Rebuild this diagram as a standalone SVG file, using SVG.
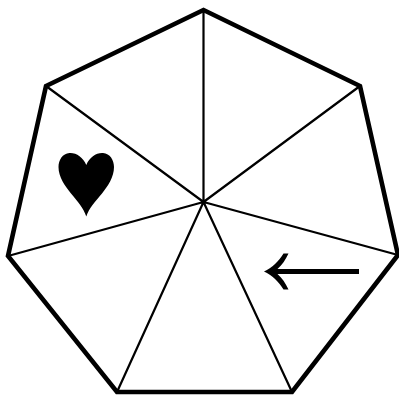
<svg xmlns="http://www.w3.org/2000/svg" width="399" height="396" viewBox="0 0 399 396">
<style>
.spoke{fill:none;stroke:#000;stroke-width:2.200}
.rim{fill:none;stroke:#000;stroke-width:4.600}
.solid{fill:#000;stroke:none}
</style>
<rect width="399" height="396" fill="#fff"/>
<g id="spokes">
<path class="spoke" d="M203.500 202V10M203.500 202L360 86M203.500 202L398 255M203.500 202L292 392M203.500 202L117 392M203.500 202L8 256M203.500 202L46 86"/>
</g>
<g id="rim">
<path class="rim" d="M203.500 10L360 86L398 255L292 392H117L8 256L46 86Z"/>
</g>
<g id="heart">
<path class="solid" d="M86.300 165C83 157 76 152.500 69.500 153C62.500 153.500 58.500 160 58.500 167C58.500 177 65 186 71 193.500C78 202 83.500 208 86.300 216.500C89 208 95 202 102 193.500C108 186 114 177 114 167C114 160 110 153.500 103 153C96.500 152.500 89.500 157 86.300 165Z"/>
</g>
<g id="arrow">
<path class="solid" d="M359 269H277.500C282 265 285.500 260 288.500 253.500L283.500 253.500C279 261 272 268 264 271.500C272 275 279 282 283.500 289.500L288.500 289.500C285.500 283 282 278 277.500 274H359Z"/>
</g>
</svg>
